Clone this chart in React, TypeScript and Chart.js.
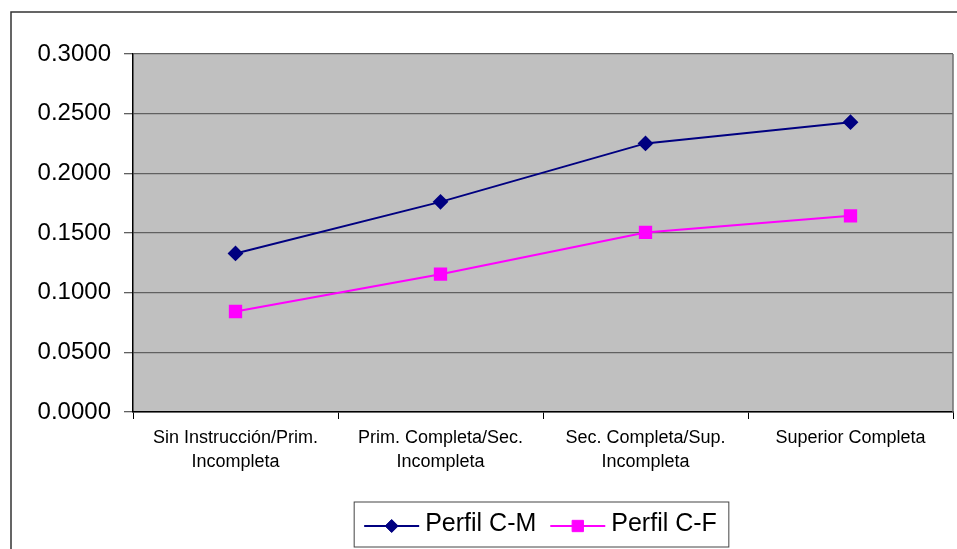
import React, { useEffect, useRef } from "react";
import { Chart, registerables } from "chart.js";
import { drawPoint } from "chart.js/helpers";

Chart.register(...registerables);

const categories: (string | string[])[] = [
  ["Sin Instrucción/Prim.", "Incompleta"],
  ["Prim. Completa/Sec.", "Incompleta"],
  ["Sec. Completa/Sup.", "Incompleta"],
  "Superior Completa",
];
const perfilCM: number[] = [0.1329, 0.1761, 0.2251, 0.2429];
const perfilCF: number[] = [0.0842, 0.1155, 0.1505, 0.1644];
const seriesLabels: string[] = ["Perfil C-M", "Perfil C-F"];

const W = 1083;
const H = 570;
const FONT = "'Liberation Sans', Arial, sans-serif";

const framePlugin = {
  id: "framePlugin",
  beforeDraw(chart: any) {
    const { ctx, chartArea } = chart;
    ctx.save();
    ctx.fillStyle = "#ffffff";
    ctx.fillRect(0, 0, chart.width, chart.height);
    ctx.fillStyle = "#C0C0C0";
    ctx.fillRect(chartArea.left, chartArea.top, chartArea.right - chartArea.left, chartArea.bottom - chartArea.top);
    ctx.strokeStyle = "#333333";
    ctx.lineWidth = 1.5;
    ctx.strokeRect(11, 12, chart.width - 22, chart.height - 24);
    ctx.restore();
  },
  afterDatasetsDraw(chart: any) {
    const { ctx, chartArea } = chart;
    ctx.save();
    ctx.strokeStyle = "#707070";
    ctx.lineWidth = 1.5;
    ctx.beginPath();
    ctx.moveTo(chartArea.right, chartArea.top);
    ctx.lineTo(chartArea.right, chartArea.bottom);
    ctx.stroke();
    ctx.restore();
  },
};

const legendPlugin = {
  id: "boxLegend",
  afterDraw(chart: any) {
    const { ctx, chartArea } = chart;
    const ds = chart.data.datasets;
    ctx.save();
    ctx.font = `25px ${FONT}`;
    const padL = 10, lineLen = 55, gap = 6, itemGap = 14, padR = 12;
    const widths = ds.map((d: any) => ctx.measureText(d.label).width);
    let total = padL + padR;
    widths.forEach((w: number, i: number) => {
      total += lineLen + gap + w + (i > 0 ? itemGap : 0);
    });
    const cx = chart.width / 2;
    const left = cx - total / 2;
    const top = chartArea.bottom + 90;
    const h = 45;
    ctx.fillStyle = "#ffffff";
    ctx.fillRect(left, top, total, h);
    ctx.strokeStyle = "#444444";
    ctx.lineWidth = 1;
    ctx.strokeRect(left, top, total, h);
    let x = left + padL;
    const ly = top + 24;
    ds.forEach((d: any, i: number) => {
      if (i > 0) x += itemGap;
      ctx.strokeStyle = d.borderColor;
      ctx.lineWidth = 2;
      ctx.beginPath();
      ctx.moveTo(x, ly);
      ctx.lineTo(x + lineLen, ly);
      ctx.stroke();
      ctx.fillStyle = d.pointBackgroundColor;
      ctx.strokeStyle = d.pointBorderColor;
      ctx.lineWidth = 1;
      drawPoint(ctx, { pointStyle: d.pointStyle, radius: d.pointRadius, rotation: 0, borderWidth: 1 } as any, x + lineLen / 2, ly);
      x += lineLen + gap;
      ctx.fillStyle = "#000000";
      ctx.textBaseline = "alphabetic";
      ctx.textAlign = "left";
      ctx.fillText(d.label, x, ly + 5);
      x += widths[i];
    });
    ctx.restore();
  },
};

export default function App() {
  const ref = useRef<HTMLCanvasElement | null>(null);
  useEffect(() => {
    if (!ref.current) return;
    const chart = new Chart(ref.current, {
      type: "line",
      data: {
        labels: categories,
        datasets: [
          {
            label: seriesLabels[0],
            data: perfilCM,
            borderColor: "#000080",
            backgroundColor: "#000080",
            pointBackgroundColor: "#000080",
            pointBorderColor: "#000080",
            borderWidth: 2,
            pointStyle: "rectRot",
            pointRadius: 6.5,
            tension: 0,
          },
          {
            label: seriesLabels[1],
            data: perfilCF,
            borderColor: "#FF00FF",
            backgroundColor: "#FF00FF",
            pointBackgroundColor: "#FF00FF",
            pointBorderColor: "#FF00FF",
            borderWidth: 2,
            pointStyle: "rect",
            pointRadius: 8,
            tension: 0,
          },
        ],
      },
      options: {
        responsive: false,
        animation: false,
        devicePixelRatio: 1,
        layout: { padding: { left: 0, top: 54, right: 130, bottom: H - 412 - 100 } },
        plugins: {
          legend: { display: false },
          tooltip: { enabled: false },
        },
        scales: {
          x: {
            offset: true,
            grid: { drawOnChartArea: false, drawTicks: true, tickLength: 7, offset: true, color: "#000000" },
            border: { color: "#000000", width: 1.5 },
            ticks: {
              color: "#000000",
              font: { family: FONT, size: 18, lineHeight: 1.333 },
              padding: 7,
              maxRotation: 0,
              autoSkip: false,
            },
            afterFit(scale: any) {
              scale.height = 100;
            },
          },
          y: {
            min: 0,
            max: 0.3,
            grid: { color: "#606060", lineWidth: 1.3, tickLength: 9 },
            border: { color: "#000000", width: 1.5 },
            ticks: {
              stepSize: 0.05,
              color: "#000000",
              font: { family: FONT, size: 24 },
              padding: 13,
              callback: (v: any) => Number(v).toFixed(4),
            },
            afterFit(scale: any) {
              scale.width = 133;
            },
          },
        },
      },
      plugins: [framePlugin, legendPlugin],
    });
    return () => chart.destroy();
  }, []);
  return (
    <div style={{ position: "fixed", left: 0, top: 0, width: 957, height: 549, overflow: "hidden", background: "#fff" }}>
      <canvas ref={ref} width={W} height={H} style={{ width: W, height: H, display: "block" }} />
    </div>
  );
}
